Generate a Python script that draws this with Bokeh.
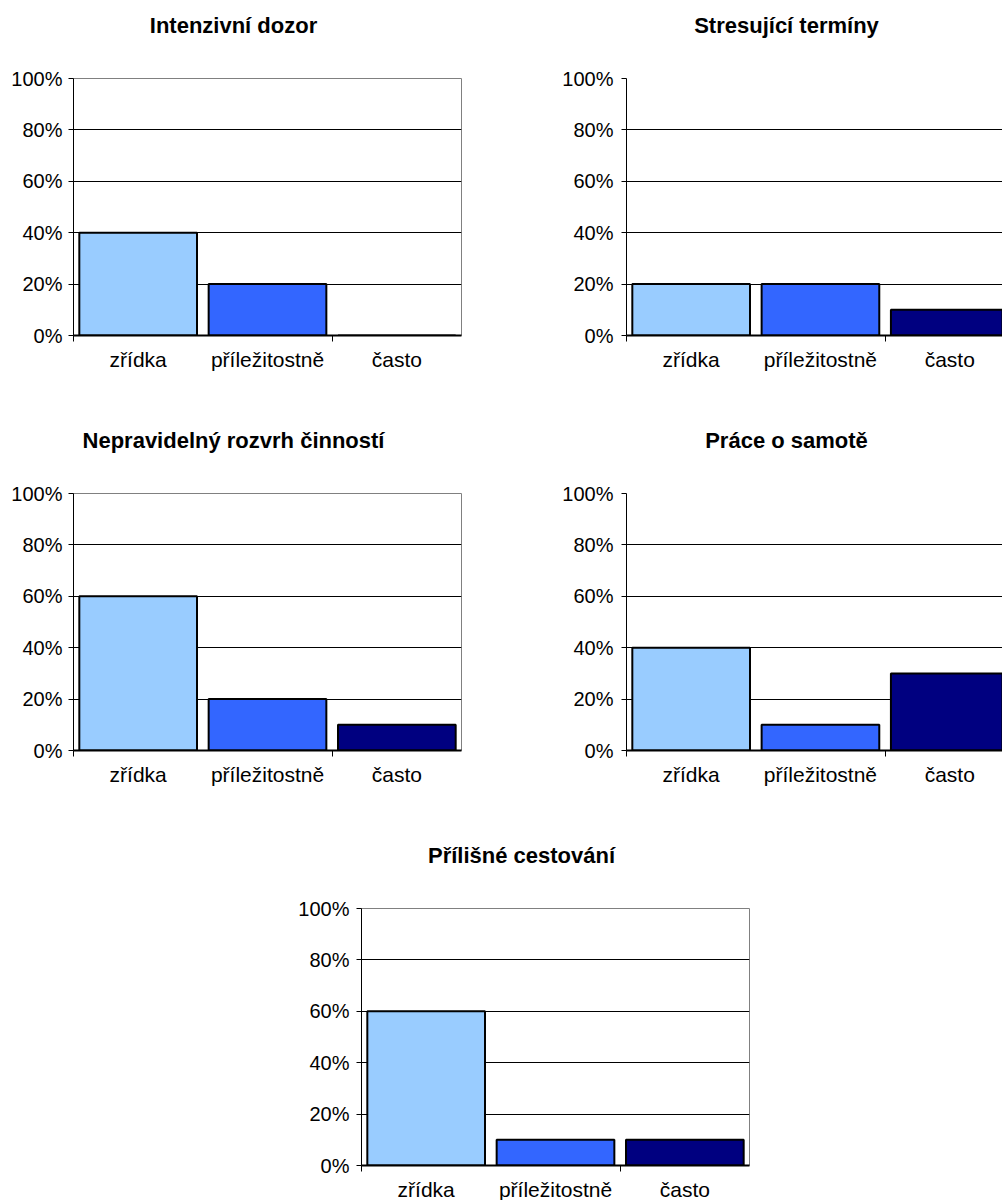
from bokeh.plotting import figure
from bokeh.layouts import column, row
from bokeh.models import Range1d, FixedTicker, NumeralTickFormatter, ColumnDataSource
from bokeh.core.properties import value
from bokeh.embed import file_html
from bokeh.resources import INLINE

categories = ["zřídka", "příležitostně", "často"]
colors = ["#99CCFF", "#3366FF", "#000080"]

titles = [
    "Intenzivní dozor",
    "Stresující termíny",
    "Nepravidelný rozvrh činností",
    "Práce o samotě",
    "Přílišné cestování",
]
intenzivni_dozor = [0.40, 0.20, 0.00]
stresujici_terminy = [0.20, 0.20, 0.10]
nepravidelny_rozvrh = [0.60, 0.20, 0.10]
prace_o_samote = [0.40, 0.10, 0.30]
prilisne_cestovani = [0.60, 0.10, 0.10]

FONT = "Liberation Sans"
PAGE_W = 1002
STRIP_H = 63


def title_strip(texts, centers):
    s = figure(width=PAGE_W, height=STRIP_H, x_range=Range1d(0, PAGE_W),
               y_range=Range1d(0, STRIP_H), min_border=0,
               output_backend="svg", toolbar_location=None,
               background_fill_color="white", border_fill_color="white")
    s.axis.visible = False
    s.grid.grid_line_color = None
    s.outline_line_color = None
    src = ColumnDataSource(dict(x=centers, y=[STRIP_H - 25] * len(texts), t=texts))
    s.text(x="x", y="y", text="t", source=src, text_align="center",
           text_baseline="middle", text_font=value(FONT), text_font_style="bold",
           text_font_size="22px", text_color="black")
    return s


def make_chart(values, left, right, bottom, frame_w, x_end, outline, standoff):
    xs = [i + 0.5 for i in range(len(categories))]
    src = ColumnDataSource(dict(x=xs, top=values, color=colors))
    p = figure(
        frame_width=frame_w, frame_height=257,
        min_border_left=left, min_border_right=right,
        min_border_top=78 - STRIP_H, min_border_bottom=bottom,
        x_range=Range1d(0, x_end), y_range=Range1d(0, 1),
        output_backend="svg", toolbar_location=None,
        background_fill_color="white", border_fill_color="white",
    )
    p.vbar(x="x", top="top", width=0.91, source=src, fill_color="color",
           line_color="black", line_width=2)

    p.xgrid.grid_line_color = None
    p.ygrid.grid_line_color = "black"
    p.ygrid.grid_line_width = 1
    p.ygrid.ticker = FixedTicker(ticks=[0, 0.2, 0.4, 0.6, 0.8, 1.0])

    p.outline_line_color = "#808080" if outline else None
    p.outline_line_width = 1

    ya = p.yaxis[0]
    ya.ticker = FixedTicker(ticks=[0, 0.2, 0.4, 0.6, 0.8, 1.0])
    ya.formatter = NumeralTickFormatter(format="0%")
    ya.major_tick_out = 5
    ya.major_tick_in = 0
    ya.minor_tick_line_color = None
    ya.axis_line_color = "black"
    ya.axis_line_width = 1
    ya.major_tick_line_color = "black"
    ya.major_label_text_font = FONT
    ya.major_label_text_font_size = "20px"
    ya.major_label_text_color = "black"
    ya.major_label_standoff = standoff

    xa = p.xaxis[0]
    xa.ticker = FixedTicker(ticks=xs, minor_ticks=[0, 2])
    xa.major_label_overrides = {x: c for x, c in zip(xs, categories)}
    xa.major_tick_out = 0
    xa.major_tick_in = 0
    xa.minor_tick_out = 6
    xa.minor_tick_in = 0
    xa.minor_tick_line_color = "black"
    xa.axis_line_color = "black"
    xa.axis_line_width = 2
    xa.major_label_text_font = FONT
    xa.major_label_text_font_size = "21px"
    xa.major_label_text_color = "black"
    xa.major_label_standoff = 6
    return p


RIGHT_END = 376 / 129.3

t1 = title_strip([titles[0], titles[1]], [233, 786])
p1 = make_chart(intenzivni_dozor, 73, 69, 80, 388, 3, True, 6)
p2 = make_chart(stresujici_terminy, 96, 0, 80, 376, RIGHT_END, False, 8)
t2 = title_strip([titles[2], titles[3]], [233, 786])
p3 = make_chart(nepravidelny_rozvrh, 73, 69, 80, 388, 3, True, 6)
p4 = make_chart(prace_o_samote, 96, 0, 80, 376, RIGHT_END, False, 8)
t3 = title_strip([titles[4]], [521])
p5 = make_chart(prilisne_cestovani, 361, 253, 35, 388, 3, True, 7)

layout = column(row(t1), row(p1, p2), row(t2), row(p3, p4), row(t3), row(p5))

open("out.html", "w").write(file_html(layout, INLINE))
